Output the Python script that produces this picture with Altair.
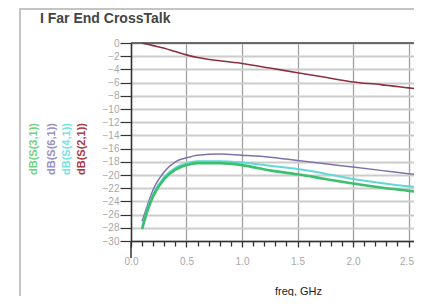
import altair as alt
import pandas as pd

freq = [0.1, 0.15, 0.2, 0.3, 0.4, 0.5, 0.6, 0.8, 1.0, 1.25, 1.5, 1.75, 2.0, 2.25, 2.5, 2.7]
s21 = [0.0, -0.2, -0.4, -0.8, -1.3, -1.8, -2.2, -2.7, -3.1, -3.8, -4.5, -5.2, -5.9, -6.3, -6.8, -7.2]
s61 = [-27.0, -24.5, -22.2, -19.5, -18.0, -17.4, -17.0, -16.8, -17.0, -17.3, -17.8, -18.3, -18.8, -19.3, -19.8, -20.2]
s41 = [-27.8, -25.0, -22.9, -20.3, -18.9, -18.2, -17.9, -17.9, -18.1, -18.6, -19.1, -19.8, -20.6, -21.2, -21.7, -22.0]
s31 = [-28.2, -25.3, -23.2, -20.6, -19.2, -18.5, -18.2, -18.2, -18.5, -19.3, -19.9, -20.6, -21.3, -21.9, -22.4, -22.8]

names = ["dB(S(3,1))", "dB(S(6,1))", "dB(S(4,1))", "dB(S(2,1))"]
line_colors = ["#3cbf6e", "#7c74a8", "#62d9d6", "#8c3040"]
legend_colors = ["#6fd47f", "#9890c4", "#74e4e2", "#a83848"]
widths = [2.6, 1.5, 2.0, 1.6]
title_text = ["I Far End CrossTalk"]

x_ticks = [round(i * 0.1, 1) for i in range(26)]
y_ticks = list(range(-30, 1, 2))

W = 283
H = 198
XMAX = W / 111.0
FONT = "Liberation Sans"

series_vals = {"dB(S(3,1))": s31, "dB(S(6,1))": s61, "dB(S(4,1))": s41, "dB(S(2,1))": s21}
rows = []
for n in names:
    for f, v in zip(freq, series_vals[n]):
        rows.append({"freq": f, "val": v, "series": n})
df = pd.DataFrame(rows)

major = "abs(datum.value*2 - round(datum.value*2)) < 0.001"

x_enc = alt.X(
    "freq:Q",
    scale=alt.Scale(domain=[0, XMAX], nice=False, zero=False),
    axis=alt.Axis(
        values=x_ticks,
        labelExpr=f"({major}) ? format(datum.value, '.1f') : ''",
        tickSize={"condition": {"test": major, "value": 6}, "value": 5},
        tickColor="#333333",
        tickWidth=1.3,
        domainColor="#333333",
        domainWidth=1.5,
        labelFont=FONT,
        labelFontSize=10,
        labelColor="#a8a8a8",
        labelPadding=9,
        labelOffset={"condition": {"test": "datum.value > 2.45", "value": -2}, "value": 0},
        labelFlush=False,
        labelOverlap=False,
        grid=True,
        gridColor="#a0a0a0",
        gridWidth=1.3,
        gridOpacity={"condition": {"test": major, "value": 1}, "value": 0},
        title="freq, GHz",
        titleFont=FONT,
        titleFontSize=11,
        titleColor="#222222",
        titleFontWeight="normal",
        titleX=167,
        titleY=50,
        titleAlign="center",
        titleBaseline="middle",
    ),
)
y_enc = alt.Y(
    "val:Q",
    scale=alt.Scale(domain=[-30, 0], nice=False, zero=False),
    axis=alt.Axis(
        values=y_ticks,
        format="d",
        tickSize=11,
        tickColor="#333333",
        tickWidth=1.2,
        domainColor="#333333",
        domainWidth=1.5,
        labelFont=FONT,
        labelFontSize=10,
        labelColor="#a8a8a8",
        labelPadding=1,
        labelOverlap=False,
        grid=True,
        gridColor="#cccccc",
        gridWidth=2,
        title=None,
    ),
)

layers = []
draw_order = ["dB(S(6,1))", "dB(S(4,1))", "dB(S(3,1))", "dB(S(2,1))"]
for n in draw_order:
    i = names.index(n)
    layers.append(
        alt.Chart(df)
        .transform_filter(alt.datum.series == n)
        .mark_line(clip=True, interpolate="monotone", color=line_colors[i], strokeWidth=widths[i])
        .encode(x=x_enc, y=y_enc)
    )

one = pd.DataFrame({"a": [0]})
top_border = alt.Chart(one).mark_rule(color="#444444", strokeWidth=1.5).encode(
    x=alt.value(0), x2=alt.value(W), y=alt.value(0)
)
axis_ext = alt.Chart(one).mark_rect(color="#333333").encode(
    x=alt.value(-0.75), x2=alt.value(0.75), y=alt.value(H), y2=alt.value(H + 17)
)
frame = alt.Chart(one).mark_rect(
    fill="white", fillOpacity=0, stroke="#c4c4c4", strokeWidth=2
).encode(
    x=alt.value(-111), x2=alt.value(W + 100), y=alt.value(-34), y2=alt.value(300)
)

title = alt.Chart(pd.DataFrame({"t": title_text})).mark_text(
    font=FONT, fontSize=14, fontWeight="bold", color="#444444", align="left", baseline="alphabetic"
).encode(text="t:N", x=alt.value(-91), y=alt.value(-20))

legend_x = [-97, -79, -64, -49]
legend_layers = []
for i, n in enumerate(names):
    legend_layers.append(
        alt.Chart(pd.DataFrame({"label": [n]}))
        .mark_text(angle=270, font=FONT, fontSize=11, fontWeight="bold", color=legend_colors[i],
                   align="center", baseline="middle")
        .encode(text="label:N", x=alt.value(legend_x[i]), y=alt.value(106))
    )

chart = (
    alt.layer(frame, *layers, top_border, axis_ext, title, *legend_layers)
    .properties(
        width=W,
        height=H,
        autosize=alt.AutoSizeParams(type="none"),
        padding={"left": 123, "top": 35, "right": 0, "bottom": 55},
    )
    .configure_view(strokeWidth=0)
    .configure(background="white")
)

chart.save("out.html", embed_options={"renderer": "svg", "actions": False})
